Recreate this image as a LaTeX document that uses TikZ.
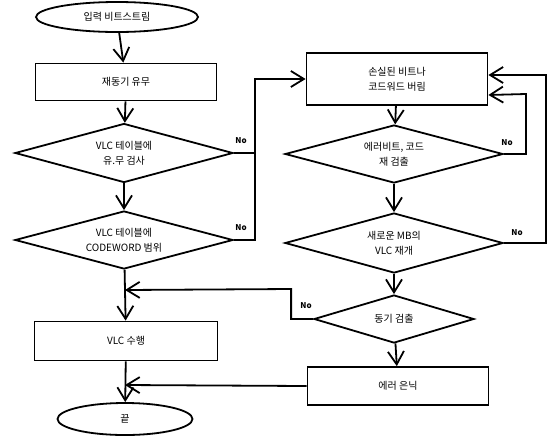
\documentclass[tikz,border=0pt]{standalone}
\usepackage{fontspec}
\newfontfamily\kr{Noto Sans CJK KR}
\usetikzlibrary{arrows.meta,shapes.geometric}

\begin{document}
\begin{tikzpicture}[x=1pt,y=-1pt,line width=1.8pt,font=\kr\fontsize{10}{15}\selectfont,
    term/.style={draw,ellipse,inner sep=0pt},
    proc/.style={draw,rectangle,inner sep=0pt,align=center},
    dec/.style={draw,diamond,inner sep=0pt,align=center,shape aspect=3.6},
    arr/.style={-{Straight Barb[length=13pt,width=16pt,line width=1.8pt]}},
    no/.style={font=\kr\bfseries\fontsize{8}{10}\selectfont}]
    \useasboundingbox (0,0) rectangle (553,437);
    \node[term,minimum width=162,minimum height=30] (start) at (117,17) {입력 비트스트림};
    \node[proc,minimum width=181,minimum height=37] (resync) at (126,82) {재동기 유무};
    \node[dec,minimum width=218,minimum height=59] (tabchk) at (124,153) {VLC 테이블에\\유.무 검사};
    \node[dec,minimum width=218,minimum height=58] (tabrng) at (124,240) {VLC 테이블에\\CODEWORD 범위};
    \node[proc,minimum width=183,minimum height=39] (vlcrun) at (126,341) {VLC 수행};
    \node[term,minimum width=135,minimum height=32] (stop) at (125,419) {끝};
    \node[proc,minimum width=181,minimum height=52] (discard) at (397,79) {손실된 비트나\\코드워드 버림};
    \node[dec,minimum width=218,minimum height=58] (errchk) at (394,154) {에러비트, 코드\\재 검출};
    \node[dec,minimum width=218,minimum height=60] (restart) at (394,243) {새로운 MB의\\VLC 재개};
    \node[dec,minimum width=160,minimum height=48,shape aspect=3.3] (syncchk) at (394,319) {동기 검출};
    \node[proc,minimum width=181,minimum height=38] (conceal) at (398,386) {에러 은닉};
    \coordinate (nobus) at (255,153);
    \coordinate (join1) at (125,290);
    \coordinate (join2) at (125,385);
    \draw[arr] (start)--(resync); \draw[arr] (resync)--(tabchk);
    \draw[arr] (tabchk)--(tabrng); \draw[arr] (tabrng)--(vlcrun);
    \draw[arr] (vlcrun)--(stop);
    \draw[arr] (discard)--(errchk); \draw[arr] (errchk)--(restart);
    \draw[arr] (restart)--(syncchk); \draw[arr] (syncchk)--(conceal);
    \draw[arr] (tabchk.east)--(nobus)|-(discard.west); \draw (tabrng.east)-|(nobus);
    \draw[arr] (errchk.east)-|++(22,-60)--([yshift=-16pt]discard.east);
    \draw[arr] (restart.east)-|++(42,-168)--([yshift=4pt]discard.east);
    \draw[arr] (syncchk.west)-|++(-22,-30)--(join1);
    \draw[arr] (conceal.west)--(join2);
    \node[no] (no1) at (241,141) {No}; \node[no] (no2) at (241,228) {No};
    \node[no] (no3) at (507,143) {No}; \node[no] (no4) at (517,233) {No};
    \node[no] (no5) at (306,306) {No};
  \end{tikzpicture}
\end{document}
